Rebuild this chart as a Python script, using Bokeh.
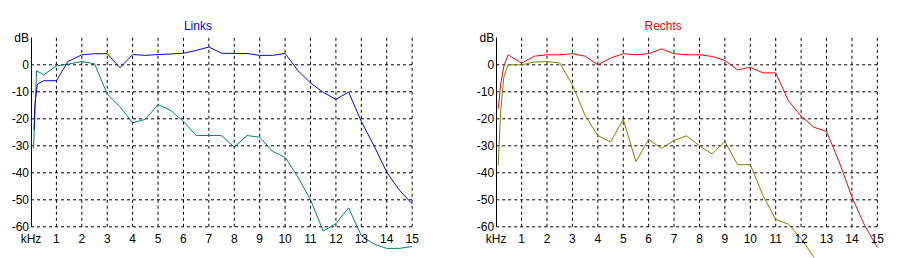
from bokeh.plotting import figure
from bokeh.models import Range1d, LinearAxis, FixedTicker, ColumnDataSource
from bokeh.layouts import row
from bokeh.core.properties import value
from bokeh.embed import file_html
from bokeh.resources import INLINE

# ---------------- data ----------------
x_ticks = list(range(0, 16))
x_tick_labels = ["kHz"] + [str(i) for i in range(1, 16)]
y_ticks = [0, -10, -20, -30, -40, -50, -60]
y_tick_labels = ["0", "-10", "-20", "-30", "-40", "-50", "-60"]

links_blue_f = [0.12, 0.15, 0.25, 0.5, 1.0, 1.45, 2.0, 2.5, 3.0, 3.5, 4.0, 4.5, 5.0, 5.5, 6.0, 6.5, 7.0,
                7.5, 8.0, 8.5, 9.0, 9.5, 10.0, 10.5, 11.0, 11.5, 12.0, 12.5, 13.0, 13.5, 14.0, 14.5, 15.0]
links_blue_db = [-24, -15, -7.2, -5.9, -5.9, 1.2, 3.7, 4.1, 4.1, -1.1, 3.8, 3.5, 3.8, 4.0, 4.3, 5.3, 6.6,
                 4.3, 4.2, 4.2, 3.5, 3.5, 4.2, -2.1, -6.7, -10.2, -12.8, -10.1, -21.0, -30.0, -39.8, -46.5, -51.5]

links_teal_f = [0.1, 0.22, 0.5, 1.0, 1.5, 2.0, 2.5, 3.0, 3.5, 4.0, 4.5, 5.0, 5.5, 6.0, 6.5, 7.0, 7.5,
                8.0, 8.5, 9.0, 9.5, 10.0, 10.5, 11.0, 11.5, 12.0, 12.5, 13.0, 13.5, 14.0, 14.5, 15.0]
links_teal_db = [-31, -2.2, -3.7, -0.4, 0.3, 1.2, 0.4, -10.8, -15.5, -21.5, -20.2, -14.7, -16.9, -21.0, -26.2, -26.2, -26.2,
                 -30.5, -26.2, -26.8, -32.0, -34.3, -41.5, -50.0, -61.6, -58.8, -53.0, -63.3, -66.4, -68.0, -68.0, -67.3]

rechts_red_f = [0.08, 0.18, 0.31, 0.47, 1.0, 1.5, 2.0, 2.5, 3.0, 3.5, 4.0, 4.5, 5.0, 5.5, 6.0, 6.5, 7.0,
                7.5, 8.0, 8.5, 9.0, 9.5, 10.0, 10.5, 11.0, 11.5, 12.0, 12.5, 13.0, 13.5, 14.0, 14.5, 15.0]
rechts_red_db = [-16.3, -7.0, -0.2, 3.7, 0.6, 3.2, 3.7, 3.7, 4.1, 3.2, 0.0, 2.5, 4.1, 3.7, 4.1, 5.9, 4.1,
                 3.7, 3.7, 3.1, 1.6, -1.9, -0.9, -3.0, -3.0, -13.3, -19.0, -23.1, -24.7, -36.0, -49.0, -59.5, -67.6]

rechts_olive_f = [0.08, 0.17, 0.3, 0.46, 1.0, 1.5, 2.0, 2.5, 3.0, 3.5, 4.0, 4.5, 5.0, 5.5, 6.0, 6.5, 7.0,
                  7.5, 8.0, 8.5, 9.0, 9.5, 10.0, 10.5, 11.0, 11.5, 12.0, 12.5]
rechts_olive_db = [-37.3, -18.0, -4.6, 0.0, 0.0, 1.0, 1.2, 0.7, -7.4, -18.8, -26.2, -28.6, -20.2, -35.9, -27.6, -31.0, -28.0,
                   -26.3, -30.0, -33.0, -28.4, -37.0, -37.0, -48.4, -57.3, -59.0, -64.4, -71.2]

FONT = "Liberation Sans"
PX_PER_KHZ = 25.41
PX_PER_DB = 2.7
ZERO_DB_PX = 64.3
HEIGHT = 258


def make_panel(width, zero_px, title, title_color, series):
    xs = -zero_px / PX_PER_KHZ
    xe = xs + width / PX_PER_KHZ
    ye = ZERO_DB_PX / PX_PER_DB
    ys = ye - HEIGHT / PX_PER_DB
    p = figure(width=width, height=HEIGHT, x_range=Range1d(xs, xe), y_range=Range1d(ys, ye),
               output_backend="svg", toolbar_location=None,
               x_axis_location=None, y_axis_location=None, min_border=0)
    p.outline_line_color = None
    p.background_fill_color = "white"
    p.border_fill_color = "white"
    for g in p.grid:
        g.visible = False

    # dashed grid
    hg = ColumnDataSource(dict(x0=[0] * len(y_ticks), x1=[15] * len(y_ticks), y=y_ticks))
    p.segment(x0="x0", y0="y", x1="x1", y1="y", source=hg, line_color="black",
              line_width=1, line_dash="3 3")
    vt = x_ticks[1:]
    vg = ColumnDataSource(dict(x=vt, y0=[-60] * len(vt), y1=[10] * len(vt)))
    p.segment(x0="x", y0="y0", x1="x", y1="y1", source=vg, line_color="black",
              line_width=1, line_dash="3 3")

    for f, d, c in series:
        p.line(f, d, line_color=c, line_width=1)

    # axes
    yax = LinearAxis(ticker=FixedTicker(ticks=y_ticks, minor_ticks=[]), fixed_location=0,
                     bounds=(-60, 10))
    yax.major_label_overrides = {t: l for t, l in zip(y_ticks, y_tick_labels)}
    yax.major_tick_in = 0
    yax.major_tick_out = 0
    yax.minor_tick_in = 0
    yax.minor_tick_out = 0
    yax.major_label_standoff = 2
    yax.axis_line_color = "black"
    yax.major_label_text_font = FONT
    yax.major_label_text_font_size = "12px"
    yax.major_label_text_color = "black"
    p.add_layout(yax, "left")

    xax = LinearAxis(ticker=FixedTicker(ticks=x_ticks, minor_ticks=[]), fixed_location=-60,
                     bounds=(0, 15))
    xax.major_label_overrides = {t: l for t, l in zip(x_ticks, x_tick_labels)}
    xax.major_tick_in = 0
    xax.major_tick_out = 0
    xax.minor_tick_in = 0
    xax.minor_tick_out = 0
    xax.major_label_standoff = 5
    xax.axis_line_color = None
    xax.major_label_text_font = FONT
    xax.major_label_text_font_size = "12px"
    xax.major_label_text_color = "black"
    p.add_layout(xax, "below")

    p.text(x=[0], y=[10], text=["dB"], text_align="right", text_baseline="alphabetic",
           x_offset=-2, text_font=value(FONT), text_font_size="12px", text_color="black")
    p.text(x=[6.57], y=[14.2], text=[title], text_align="center", text_baseline="middle",
           text_font=value(FONT), text_font_size="12px", text_color=title_color)
    return p


left = make_panel(450, 30.5, "Links", "#0000FF",
                  [(links_teal_f, links_teal_db, "#008080"), (links_blue_f, links_blue_db, "#0000FF")])
right = make_panel(453, 45.7, "Rechts", "#FF0000",
                   [(rechts_olive_f, rechts_olive_db, "#808000"), (rechts_red_f, rechts_red_db, "#FF0000")])

layout = row(left, right)
open("out.html", "w").write(file_html(layout, INLINE))
